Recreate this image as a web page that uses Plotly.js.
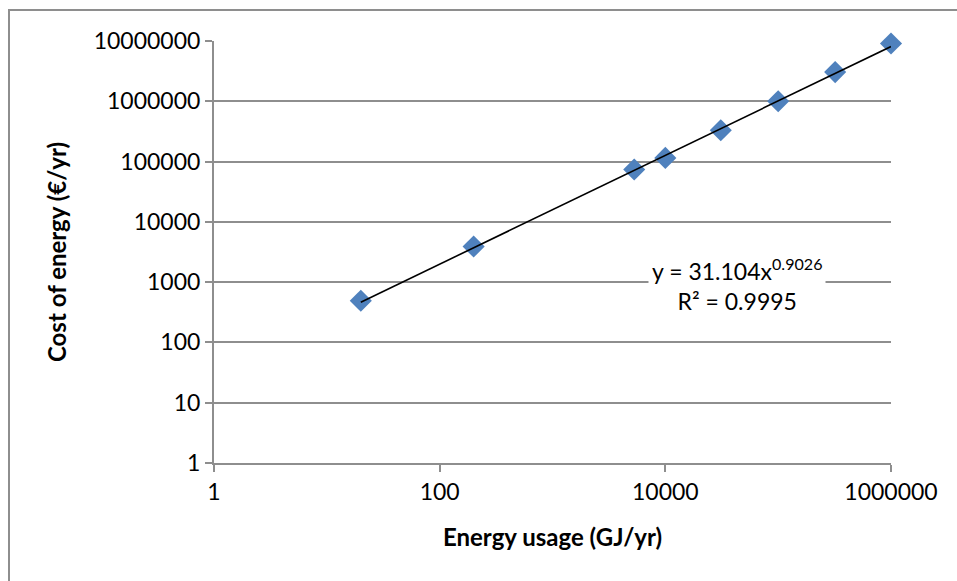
<!DOCTYPE html>
<html>
<head>
<meta charset="utf-8">
<script src="https://cdn.plot.ly/plotly-3.0.1.min.js"></script>
<style>
  html, body { margin: 0; padding: 0; background: #fff; }
  #chart { width: 957px; height: 581px; }
  #frame { position: absolute; left: 8px; top: 9px; width: 980px; height: 600px;
           border-left: 2px solid #8e8e8e; border-top: 2px solid #8e8e8e; pointer-events: none; }
</style>
</head>
<body>
<div id="chart"></div>
<div id="frame"></div>
<script>
// Data
const energyUsage = [20, 200, 5300, 10000, 31000, 100000, 320000, 1000000]; // GJ/yr
const energyCost  = [490, 3900, 74000, 115000, 330000, 1000000, 3050000, 9100000]; // €/yr

// Power trendline coefficients as displayed on the chart
const fitCoef = 31.104;
const fitExp = 0.9026;
const fitR2 = '0.9995';

const xTickVals = [1, 100, 10000, 1000000];
const xTickText = ['1', '100', '10000', '1000000'];
const yTickVals = [1, 10, 100, 1000, 10000, 100000, 1000000, 10000000];
const yTickText = ['1', '10', '100', '1000', '10000', '100000', '1000000', '10000000'];

const xMin = Math.min(...energyUsage), xMax = Math.max(...energyUsage);
const trendX = [xMin, xMax];
const trendY = trendX.map(v => fitCoef * Math.pow(v, fitExp));

const font = 'Lato, "Open Sans", "Liberation Sans", sans-serif';
const grey = '#8e8e8e';

const traces = [
  {
    x: energyUsage, y: energyCost, type: 'scatter', mode: 'markers',
    marker: { symbol: 'diamond', size: 17, color: '#4F81BD', line: { width: 0 } },
    cliponaxis: false, hoverinfo: 'x+y'
  },
  {
    x: trendX, y: trendY, type: 'scatter', mode: 'lines',
    line: { color: '#000000', width: 1.6 }, cliponaxis: false, hoverinfo: 'skip'
  }
];

const layout = {
  width: 957, height: 581,
  margin: { l: 214, r: 66, t: 41, b: 118 },
  paper_bgcolor: '#ffffff', plot_bgcolor: '#ffffff',
  showlegend: false,
  font: { family: font, size: 23, color: '#000' },
  xaxis: {
    type: 'log', range: [0, 6],
    tickvals: xTickVals, ticktext: xTickText,
    showgrid: false, zeroline: false,
    showline: true, linecolor: grey, linewidth: 2,
    ticks: 'outside', ticklen: 7, tickwidth: 2, tickcolor: grey,
    tickfont: { family: font, size: 23, color: '#000' },
    title: { text: '<b>Energy usage (GJ/yr)</b>', font: { family: font, size: 24, color: '#000' }, standoff: 26 }
  },
  yaxis: {
    type: 'log', range: [0, 7],
    tickvals: yTickVals, ticktext: yTickText,
    showgrid: true, gridcolor: grey, gridwidth: 2,
    zeroline: false,
    showline: true, linecolor: grey, linewidth: 2,
    ticks: 'outside', ticklen: 7, tickwidth: 2, tickcolor: grey,
    tickfont: { family: font, size: 23, color: '#000' },
    title: { text: '<b>Cost of energy (€/yr)</b>', font: { family: font, size: 24, color: '#000' }, standoff: 20 }
  },
  annotations: [
    {
      xref: 'paper', yref: 'paper', x: 0.772, y: 0.422,
      xanchor: 'center', yanchor: 'middle', align: 'center',
      showarrow: false, bgcolor: '#ffffff', borderpad: 3,
      text: 'y = ' + fitCoef + 'x<sup>' + fitExp + '</sup><br>R² = ' + fitR2,
      font: { family: font, size: 23, color: '#000' }
    }
  ]
};

Plotly.newPlot('chart', traces, layout, { displayModeBar: false, staticPlot: true });
</script>
</body>
</html>
